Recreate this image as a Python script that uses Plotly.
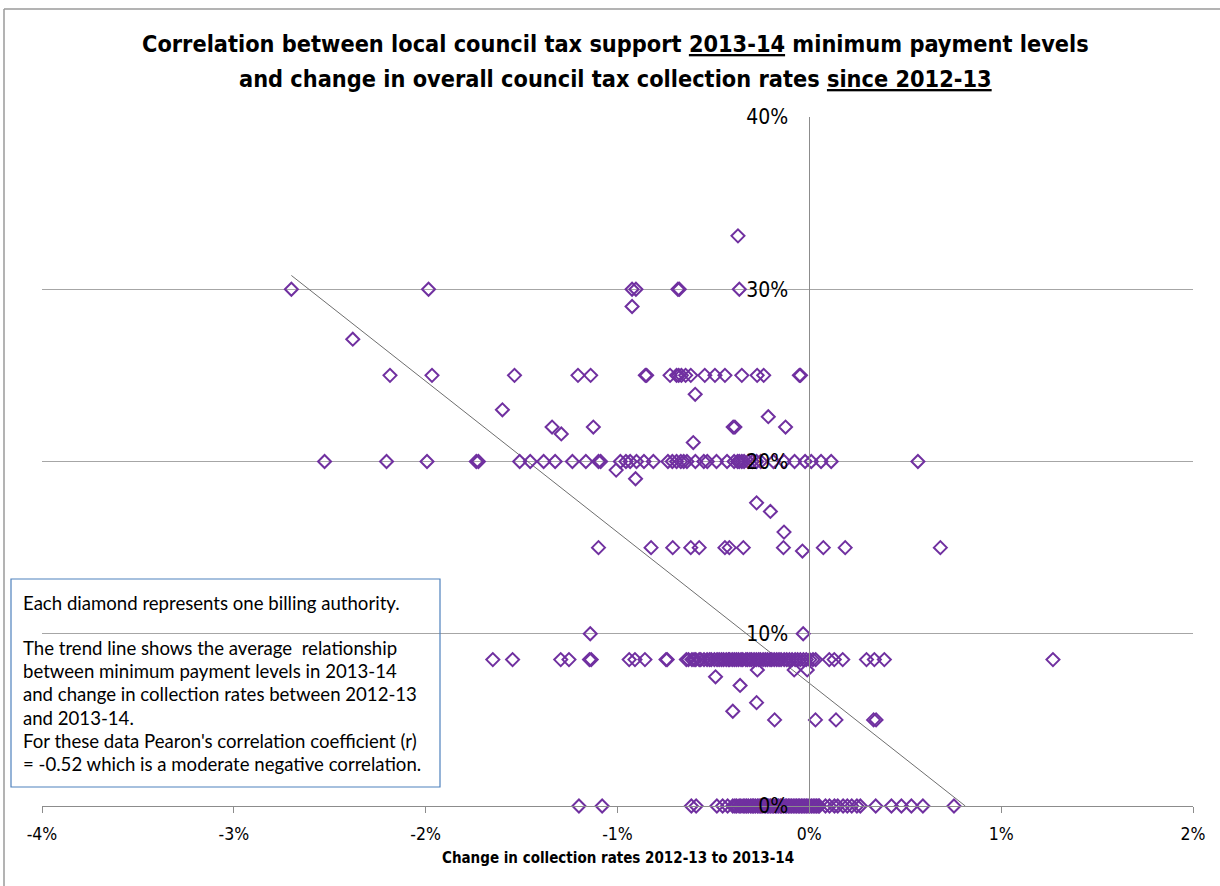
import plotly.graph_objects as go

# ---------------- data (percent units) ----------------
# x = change in collection rate 2012-13 -> 2013-14 (%), y = minimum payment level 2013-14 (%)
row_30_x = [-2.70, -1.985, -0.924, -0.904, -0.685, -0.678, -0.365]
row_25_x = [-2.186, -1.967, -1.537, -1.206, -1.140, -0.855, -0.848, -0.726, -0.692, -0.681,
            -0.667, -0.645, -0.618, -0.545, -0.492, -0.440, -0.352, -0.272, -0.238, -0.052, -0.046]
row_20_x = [-2.527, -2.204, -1.993, -1.736, -1.725, -1.510, -1.455, -1.385, -1.325, -1.235,
            -1.165, -1.099, -1.088, -0.985, -0.956, -0.934, -0.901, -0.862, -0.813, -0.737,
            -0.714, -0.692, -0.670, -0.655, -0.638, -0.594, -0.550, -0.532, -0.484, -0.429,
            -0.392, -0.374, -0.365, -0.352, -0.340, -0.319, -0.297, -0.275, -0.253, -0.187,
            -0.132, -0.077, -0.022, 0.010, 0.061, 0.114, 0.566]
row_15_x = [-1.099, -0.825, -0.712, -0.618, -0.574, -0.440, -0.417, -0.344, -0.135, 0.073,
            0.187, 0.683]
row_8_5_x = [-1.650, -1.547, -1.296, -1.253, -1.146, -1.137, -0.939, -0.909, -0.857, -0.747,
             -0.741, -0.641, -0.630, -0.612, -0.601, -0.592, -0.574, -0.566, -0.549, -0.533,
             -0.520, -0.511, -0.495, -0.481, -0.470, -0.458, -0.447, -0.433, -0.421, -0.415,
             -0.402, -0.391, -0.380, -0.369, -0.356, -0.347, -0.331, -0.322, -0.310, -0.301,
             -0.288, -0.276, -0.264, -0.255, -0.241, -0.229, -0.218, -0.205, -0.196, -0.183,
             -0.170, -0.158, -0.147, -0.131, -0.118, -0.104, -0.090, -0.074, -0.061, -0.047,
             -0.031, -0.016, 0.002, 0.019, 0.033, 0.104, 0.130, 0.174, 0.298, 0.339, 0.391, 1.270]
row_0_x = [-1.201, -1.080, -0.615, -0.590, -0.482, -0.452, -0.426, -0.399, -0.388, -0.379,
           -0.366, -0.357, -0.345, -0.336, -0.327, -0.318, -0.306, -0.298, -0.290, -0.281,
           -0.270, -0.262, -0.253, -0.246, -0.236, -0.228, -0.219, -0.211, -0.203, -0.194,
           -0.186, -0.177, -0.169, -0.160, -0.151, -0.144, -0.135, -0.126, -0.118, -0.109,
           -0.101, -0.093, -0.084, -0.075, -0.067, -0.058, -0.050, -0.041, -0.033, -0.024,
           -0.016, -0.007, 0.002, 0.011, 0.020, 0.029, 0.037, 0.046, 0.052, 0.084, 0.105,
           0.131, 0.148, 0.176, 0.198, 0.221, 0.248, 0.266,
           0.346, 0.428, 0.480, 0.532, 0.592, 0.754]
other_x = [-0.372, -0.924, -2.380, -0.595, -1.600, -1.341, -1.293, -1.126, -0.397, -0.388,
           -0.214, -0.124, -0.605, -1.007, -0.906, -0.275, -0.203, -0.132, -0.036, -1.142,
           -0.032, -0.271, -0.079, -0.011, -0.489, -0.361, -0.275, -0.399, -0.181, 0.032,
           0.139, 0.335, 0.348]
other_y = [33.1, 29.0, 27.1, 23.9, 23.0, 22.0, 21.6, 22.0, 22.0, 22.0,
           22.6, 22.0, 21.1, 19.5, 19.0, 17.6, 17.1, 15.9, 14.8, 10.0,
           10.0, 7.9, 7.9, 7.9, 7.5, 7.0, 6.0, 5.5, 5.0, 5.0,
           5.0, 5.0, 5.0]

row_levels = [30, 25, 20, 15, 8.5, 0]

# trend line end points
trend_x = [-2.70, 0.813]
trend_y = [30.8, 0.0]

x_tick_vals = [-4, -3, -2, -1, 0, 1, 2]
x_tick_text = ["-4%", "-3%", "-2%", "-1%", "0%", "1%", "2%"]
y_tick_vals = [0, 10, 20, 30, 40]
y_tick_text = ["0%", "10%", "20%", "30%", "40%"]

title_line1 = "Correlation between local council tax support <u>2013-14</u> minimum payment levels"
title_line2 = "and change in overall council tax collection rates <u>since 2012-13</u>"
x_title = "Change in collection rates 2012-13 to 2013-14"
note_lines = [
    "Each diamond represents one billing authority.",
    "The trend line shows the average  relationship",
    "between minimum payment levels in 2013-14",
    "and change in collection rates between 2012-13",
    "and 2013-14.",
    "For these data Pearon's correlation coefficient (r)",
    "= -0.52 which is a moderate negative correlation.",
]

# ---------------- build ----------------
xs, ys = [], []
for lvl, row in zip(row_levels, [row_30_x, row_25_x, row_20_x, row_15_x, row_8_5_x, row_0_x]):
    xs += row
    ys += [lvl] * len(row)
xs += other_x
ys += other_y

W, H = 1220, 886
L, R, T, B = 42, 27, 117, 80
pw, ph = W - L - R, H - T - B
X_RANGE = [-4, 2]
Y_RANGE = [0, 40]


def px_x(p):
    return (p - L) / pw


def px_y(p):
    return (H - B - p) / ph


PURPLE = "#7030A0"
GRID = "#A6A6A6"
AXIS = "#8C8C8C"
NARROW = "Liberation Sans Narrow, DejaVu Sans Condensed, Arial Narrow, sans-serif"
BODY = "Lato, Carlito, Calibri, sans-serif"

fig = go.Figure()
fig.add_trace(go.Scatter(
    x=trend_x, y=trend_y, mode="lines",
    line=dict(color="#6E6E6E", width=1), hoverinfo="skip", showlegend=False,
))
fig.add_trace(go.Scatter(
    x=xs, y=ys, mode="markers", cliponaxis=False,
    marker=dict(symbol="diamond-open", size=10, color=PURPLE, line=dict(color=PURPLE, width=2)),
    showlegend=False,
))

fig.update_layout(
    width=W, height=H,
    margin=dict(l=L, r=R, t=T, b=B),
    paper_bgcolor="white", plot_bgcolor="white",
    font=dict(family=NARROW, color="#000000"),
    xaxis=dict(
        range=X_RANGE, domain=[0, 1], tickvals=x_tick_vals, ticktext=x_tick_text,
        showgrid=False, zeroline=False, showline=True, linecolor=AXIS, linewidth=1,
        ticks="outside", ticklen=6, tickcolor=AXIS, tickfont=dict(size=17.5, family=NARROW),
        ticklabelstandoff=6,
    ),
    yaxis=dict(
        range=Y_RANGE, tickvals=y_tick_vals, ticktext=y_tick_text,
        anchor="free", position=(0 - X_RANGE[0]) / (X_RANGE[1] - X_RANGE[0]),
        showgrid=True, gridcolor=GRID, gridwidth=1, zeroline=False,
        showline=True, linecolor=AXIS, linewidth=1, ticks="",
        tickfont=dict(size=21, family=NARROW), ticklabelstandoff=17,
    ),
)

ann = []
ann.append(dict(text="<b>" + title_line1 + "</b>", x=px_x(615), y=px_y(43), xref="paper", yref="paper",
                xanchor="center", yanchor="middle", showarrow=False,
                font=dict(size=23.3, family=NARROW, color="#000")))
ann.append(dict(text="<b>" + title_line2 + "</b>", x=px_x(615), y=px_y(78), xref="paper", yref="paper",
                xanchor="center", yanchor="middle", showarrow=False,
                font=dict(size=23.3, family=NARROW, color="#000")))
ann.append(dict(text="<b>" + x_title + "</b>", x=0.5, y=px_y(858), xref="paper", yref="paper",
                xanchor="center", yanchor="middle", showarrow=False,
                font=dict(size=15, family=NARROW, color="#000")))
line_px = [603, 648, 671, 694, 718, 741, 764]
for t, py in zip(note_lines, line_px):
    ann.append(dict(text=t, x=px_x(21), y=px_y(py), xref="paper", yref="paper",
                    xanchor="left", yanchor="middle", showarrow=False,
                    font=dict(size=18.6, family=BODY, color="#000")))
fig.update_layout(annotations=ann)

shapes = [
    dict(type="rect", xref="paper", yref="paper", x0=px_x(11), x1=px_x(440), y0=px_y(787), y1=px_y(579),
         line=dict(color="#4F81BD", width=1.2), fillcolor="rgba(0,0,0,0)", layer="above"),
    dict(type="line", xref="paper", yref="paper", x0=px_x(4), x1=px_x(4), y0=px_y(9), y1=px_y(886),
         line=dict(color="#9A9A9A", width=1.5)),
    dict(type="line", xref="paper", yref="paper", x0=px_x(4), x1=px_x(1220), y0=px_y(9), y1=px_y(9),
         line=dict(color="#9A9A9A", width=1.5)),
]
fig.update_layout(shapes=shapes)

fig.write_html("out.html", config={"displayModeBar": False},
               post_script="document.body.style.margin='0';document.body.style.overflow='hidden';")
